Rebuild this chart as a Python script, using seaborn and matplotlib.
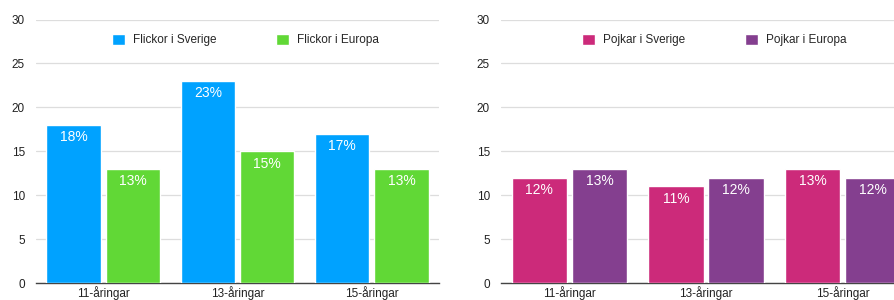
import pandas as pd
import matplotlib.pyplot as plt
import seaborn as sns

# --- DATA ---
ages = ['11-åringar', '13-åringar', '15-åringar']
girls_se = [18, 23, 17]
girls_eu = [13, 15, 13]
boys_se = [12, 11, 13]
boys_eu = [13, 12, 12]

sns.set_theme(style="white")
plt.rcParams['font.family'] = ['Liberation Sans', 'DejaVu Sans']


def long_df(a, b, name_a, name_b):
    return pd.DataFrame({
        'age': ages * 2,
        'value': a + b,
        'group': [name_a] * len(ages) + [name_b] * len(ages),
    })


fig = plt.figure(figsize=(8.94, 3.0), dpi=100)
ax1 = fig.add_axes([36 / 894, 17 / 300, 403 / 894, 263.5 / 300])
ax2 = fig.add_axes([501 / 894, 17 / 300, 410 / 894, 263.5 / 300])

panels = [
    (ax1, long_df(girls_se, girls_eu, 'Flickor i Sverige', 'Flickor i Europa'), ['#00A2FF', '#61D836']),
    (ax2, long_df(boys_se, boys_eu, 'Pojkar i Sverige', 'Pojkar i Europa'), ['#CC2A7A', '#843F8F']),
]

for ax, df, colors in panels:
    sns.barplot(data=df, x='age', y='value', hue='group', palette=colors, ax=ax,
                saturation=1, width=0.88, gap=0.08, edgecolor='white', linewidth=1,
                zorder=3)
    ax.set_ylim(0, 30)
    ax.set_yticks(range(0, 31, 5))
    ax.grid(axis='y', color='#dddddd', linewidth=0.9, zorder=0)
    ax.set_axisbelow(True)
    for s in ['top', 'right', 'left']:
        ax.spines[s].set_visible(False)
    ax.spines['bottom'].set_color('#444444')
    ax.spines['bottom'].set_linewidth(1.0)
    ax.tick_params(axis='both', length=0, labelsize=8.5, colors='#222222')
    ax.tick_params(axis='y', pad=8)
    ax.tick_params(axis='x', pad=2.5)
    ax.set_xlabel('')
    ax.set_ylabel('')
    for cont in ax.containers:
        ax.bar_label(cont, labels=[f'{int(v)}%' for v in cont.datavalues],
                     label_type='edge', padding=-14, color='white', fontsize=10)
    ax.legend(loc='center', bbox_to_anchor=(0.52, 0.922), ncol=2, frameon=False,
              fontsize=8.5, handlelength=1.1, handleheight=1.1, columnspacing=5.0,
              handletextpad=0.7)

fig.savefig('out.png', dpi=100)
